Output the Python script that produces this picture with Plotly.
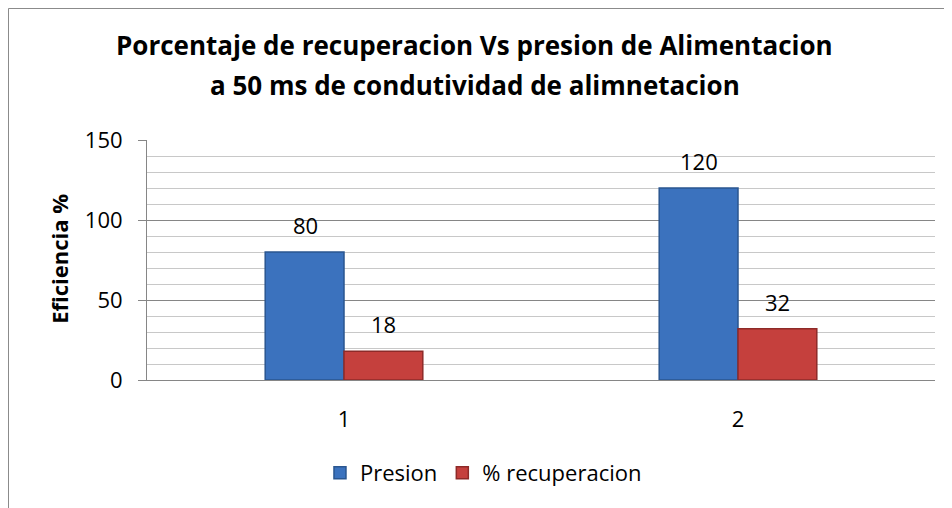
import plotly.graph_objects as go

# data
categories = ["1", "2"]
presion = [80, 120]
recuperacion = [18, 32]
y_ticks = [0, 50, 100, 150]

title_lines = ["Porcentaje de recuperacion Vs presion de Alimentacion",
               "a 50 ms de condutividad de alimnetacion"]
legend_names = ["Presion", "% recuperacion"]
y_title = "Eficiencia %"

FONT = "Open Sans"
BLUE = "#3B72BE"
RED = "#C5403D"

fig = go.Figure()
fig.add_trace(go.Bar(
    x=categories, y=presion, name=legend_names[0],
    marker=dict(color=BLUE, line=dict(color="#2A5690", width=1.5)),
))
fig.add_trace(go.Bar(
    x=categories, y=recuperacion, name=legend_names[1],
    marker=dict(color=RED, line=dict(color="#8E2A28", width=1.5)),
))

annotations = []
# value labels above bars
for series, shift in ((presion, -39), (recuperacion, 39)):
    for cat, val in zip(categories, series):
        annotations.append(dict(
            x=cat, y=val, xref="x", yref="y", text=str(val), showarrow=False,
            xshift=shift, yshift=27, font=dict(size=22, color="#000000"),
        ))
# title lines
for txt, ypos in zip(title_lines, (1.396, 1.229)):
    annotations.append(dict(
        x=0.416, xref="paper", y=ypos, yref="paper", text=f"<b>{txt}</b>",
        showarrow=False, xanchor="center", yanchor="middle",
        font=dict(size=26, color="#000000"),
    ))
# y-axis title
annotations.append(dict(
    x=-0.112, xref="paper", y=0.504, yref="paper", text=f"<b>{y_title}</b>",
    showarrow=False, textangle=-90, xanchor="center", yanchor="middle",
    font=dict(size=22, color="#000000"),
))

fig.update_layout(
    width=944, height=500,
    template="none",
    paper_bgcolor="white",
    plot_bgcolor="white",
    font=dict(family=FONT, size=22, color="#000000"),
    barmode="group",
    bargap=0.6,
    bargroupgap=0,
    showlegend=True,
    legend=dict(orientation="h", x=0.427, xanchor="center", y=-0.3875, yanchor="middle",
                font=dict(size=22), traceorder="normal"),
    margin=dict(l=139, r=17, t=132, b=128),
    annotations=annotations,
)

fig.update_xaxes(
    showgrid=False, showline=True, linecolor="#868686", linewidth=1,
    ticks="", tickfont=dict(size=22), ticklabelstandoff=20,
)
fig.update_yaxes(
    range=[0, 150], tickvals=y_ticks,
    showgrid=True, gridcolor="#868686", gridwidth=1,
    minor=dict(dtick=10, showgrid=True, gridcolor="#C8C8C8", gridwidth=1, ticks=""),
    showline=True, linecolor="#868686", linewidth=1,
    ticks="outside", ticklen=8, tickcolor="#868686",
    tickfont=dict(size=22), ticklabelstandoff=11,
    zeroline=False,
)

# chart frame border
fig.add_shape(type="rect", xref="paper", yref="paper",
              x0=-0.1758, x1=1.0165, y0=-0.62, y1=1.548,
              line=dict(color="#888888", width=1), fillcolor="rgba(0,0,0,0)",
              layer="below")

fig.write_html("out.html")
